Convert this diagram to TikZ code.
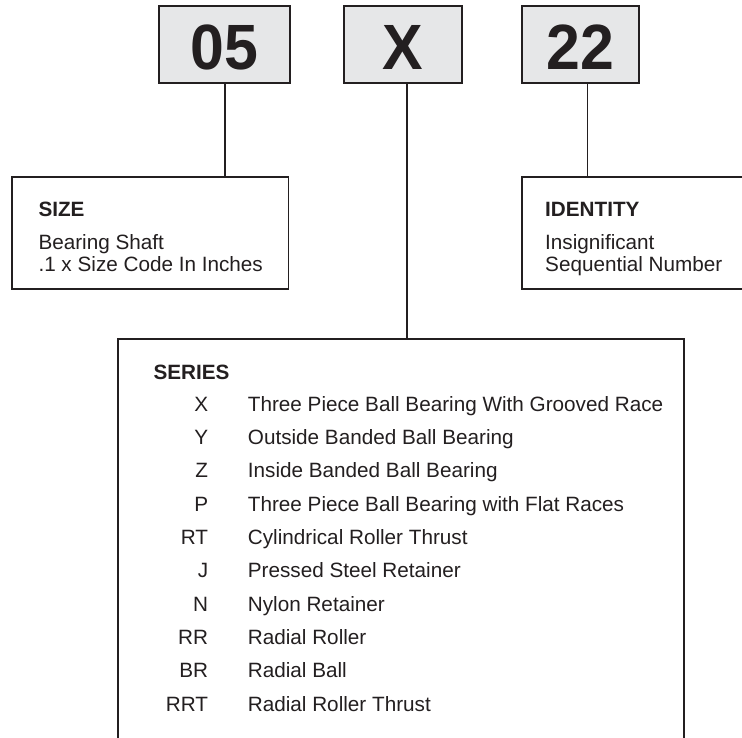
\documentclass[tikz,border=0pt]{standalone}
\usepackage{fontspec}
\setmainfont{Liberation Sans}
\definecolor{ink}{HTML}{231F20}
\definecolor{boxgray}{HTML}{E6E7E8}
\begin{document}
\begin{tikzpicture}[x=1pt,y=-1pt,
  codebox/.style={draw=ink, line width=1.8pt, fill=boxgray, minimum height=77.3pt, inner sep=0pt},
  infobox/.style={draw=ink, line width=1.8pt, fill=white, inner sep=0pt},
  big/.style={font=\fontsize{64}{64}\selectfont\bfseries, text=ink, inner sep=0pt, anchor=base},
  head/.style={font=\fontsize{20.7}{24}\selectfont\bfseries, text=ink, inner sep=0pt, anchor=base west},
  body/.style={font=\fontsize{20.7}{24}\selectfont, text=ink, inner sep=0pt, anchor=base west},
  code/.style={font=\fontsize{20.7}{24}\selectfont, text=ink, inner sep=0pt, anchor=base east},
  conn/.style={draw=ink, line width=1.8pt}]
\clip (0,0) rectangle (742,737);
% code boxes
\node[codebox, minimum width=131.2pt] (box05) at (224.4,44.65) {};
\node[codebox, minimum width=117.7pt] (boxX) at (402.85,44.65) {};
\node[codebox, minimum width=117.3pt] (box22) at (580.35,44.65) {};
\node[big] (t05) at (224.6,69) {\scalebox{0.95}[1]{05}};
\node[big] (tX) at (403,69) {\scalebox{0.95}[1]{X}};
\node[big] (t22) at (580.5,69) {\scalebox{0.95}[1]{22}};
% info boxes
\node[infobox, minimum width=276.4pt, minimum height=112pt] (size) at (150.35,233.3) {};
\node[infobox, minimum width=248.3pt, minimum height=111.7pt] (ident) at (645.85,233.15) {};
\node[infobox, minimum width=566pt, minimum height=420.7pt] (series) at (401.3,549.65) {};
% connectors
\draw[conn] ([xshift=0.6pt]box05.south) -- ([xshift=0.6pt]box05.south |- size.north);
\draw[conn] ([xshift=4.45pt]boxX.south) -- ([xshift=4.45pt]boxX.south |- series.north);
\draw[conn] ([xshift=7.2pt]box22.south) -- ([xshift=7.2pt]box22.south |- ident.north);
% size text
\node[head] (sizehead) at (38.3,216) {SIZE};
\node[body] (size1) at (38.3,249.3) {Bearing Shaft};
\node[body] (size2) at (38.3,271.7) {.1 x Size Code In Inches};
% identity text
\node[head] (identhead) at (545,216) {IDENTITY};
\node[body] (ident1) at (545,249.3) {Insignificant};
\node[body] (ident2) at (545,271.7) {Sequential Number};
% series text
\node[head] (serieshead) at (153.3,379.3) {SERIES};
\foreach \c/\d [count=\i] in {X/Three Piece Ball Bearing With Grooved Race,
  Y/Outside Banded Ball Bearing,
  Z/Inside Banded Ball Bearing,
  P/Three Piece Ball Bearing with Flat Races,
  RT/Cylindrical Roller Thrust,
  J/Pressed Steel Retainer,
  N/Nylon Retainer,
  RR/Radial Roller,
  BR/Radial Ball,
  RRT/Radial Roller Thrust}{
  \node[code] (c\i) at (208.3,{411+(\i-1)*33.37}) {\c};
  \node[body] (d\i) at (247.7,{411+(\i-1)*33.37}) {\d};
}
\end{tikzpicture}
\end{document}
